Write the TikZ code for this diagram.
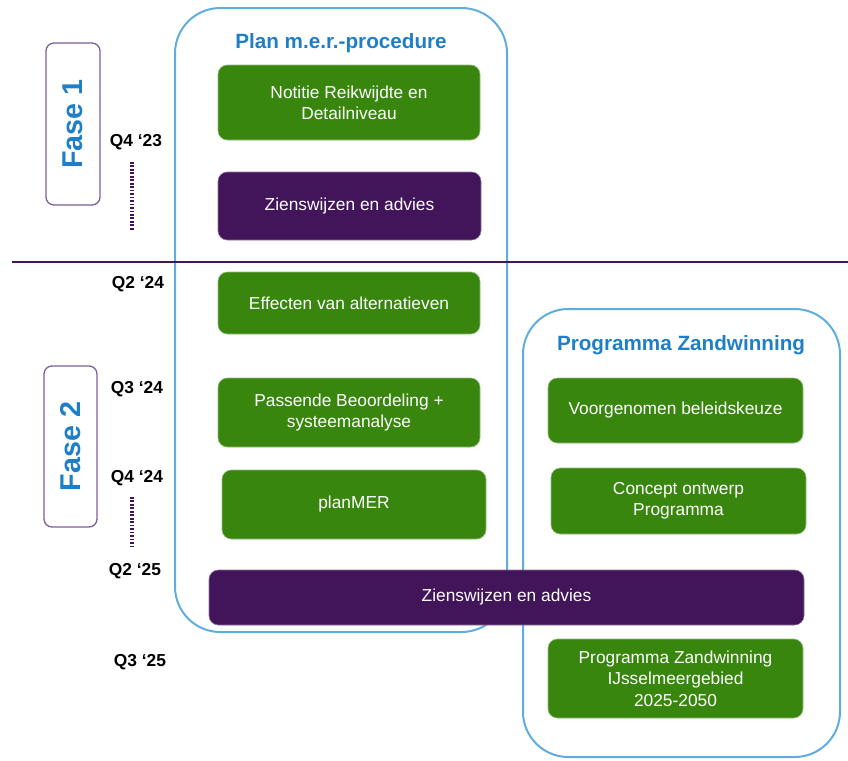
\documentclass[tikz,border=0pt]{standalone}
\usepackage{fontspec}
\setmainfont{Liberation Sans}
\definecolor{mergreen}{RGB}{56,134,14}
\definecolor{merpurple}{RGB}{66,20,90}
\definecolor{mertitle}{RGB}{30,127,200}
\definecolor{merframe}{RGB}{95,172,225}
\definecolor{merfase}{RGB}{125,95,155}
\tikzset{
  stepbox/.style={rounded corners=7pt,fill=mergreen,draw=mergreen!55!white,text=white,align=center,
    font=\fontsize{13}{16}\selectfont,inner sep=0pt},
  viewbox/.style={stepbox,fill=merpurple,draw=merpurple!60!white},
  quarter/.style={font=\fontsize{13}{15}\selectfont\bfseries},
  fasebox/.style={draw=merfase,line width=1pt,rounded corners=6pt},
  fasetext/.style={rotate=90,text=mertitle,font=\fontsize{21.5}{24}\selectfont\bfseries},
  frametitle/.style={text=mertitle,font=\fontsize{15.5}{18}\selectfont\bfseries},
  dotline/.style={draw=merpurple,line width=2.4pt,dash pattern=on 1.3pt off 1.3pt}
}
\begin{document}
\begin{tikzpicture}[x=0.75pt,y=-0.75pt]
\useasboundingbox (0,0) rectangle (848,760);
% procedure frames
\draw[merframe,line width=1.5pt,rounded corners=34pt] (175,8) rectangle (507,632);
\draw[merframe,line width=1.5pt,rounded corners=34pt] (523,309) rectangle (840,757);
\node[frametitle] (plantitle) at (341,43) {Plan m.e.r.-procedure};
\node[frametitle] (progtitle) at (681,345) {Programma Zandwinning};
% phase divider
\coordinate (divl) at (12,262);
\coordinate (divr) at (848,262);
\draw[merpurple,line width=2.1pt] (divl) -- (divr);
% phases
\draw[fasebox] (46,43) rectangle (100,205);
\node[fasetext] (fase1) at (73,124) {Fase 1};
\draw[fasebox] (44,366) rectangle (97,527);
\node[fasetext] (fase2) at (70.5,446.5) {Fase 2};
% quarters
\node[quarter] (q423) at (136,142) {Q4 ‘23};
\node[quarter] (q224) at (138,284) {Q2 ‘24};
\node[quarter] (q324) at (137,389) {Q3 ‘24};
\node[quarter] (q424) at (137,478) {Q4 ‘24};
\node[quarter] (q225) at (135,571) {Q2 ‘25};
\node[quarter] (q325) at (140,662) {Q3 ‘25};
\coordinate (dot1a) at (132,162);
\coordinate (dot1b) at (132,230);
\coordinate (dot2a) at (132,497);
\coordinate (dot2b) at (132,547);
\draw[dotline] (dot1a) -- (dot1b);
\draw[dotline] (dot2a) -- (dot2b);
% plan m.e.r. steps
\node[stepbox,minimum width=196.5pt,minimum height=56.25pt] (notitie) at (349,102.5) {Notitie Reikwijdte en\\Detailniveau};
\node[viewbox,minimum width=197.25pt,minimum height=51pt] (zien1) at (349.5,206) {Zienswijzen en advies};
\node[stepbox,minimum width=196.5pt,minimum height=46.5pt] (effect) at (349,303) {Effecten van alternatieven};
\node[stepbox,minimum width=196.5pt,minimum height=51.75pt] (passend) at (349,412.5) {Passende Beoordeling +\\systeemanalyse};
\node[stepbox,minimum width=198pt,minimum height=51.75pt] (planmer) at (354,504.5) {planMER};
% programma steps
\node[stepbox,minimum width=191.25pt,minimum height=48.75pt] (keuze) at (675.5,410.5) {Voorgenomen beleidskeuze};
\node[stepbox,minimum width=191.25pt,minimum height=49.5pt] (concept) at (678.5,501) {Concept ontwerp\\Programma};
\node[viewbox,minimum width=446.25pt,minimum height=41.25pt] (zien2) at (506.5,597.5) {Zienswijzen en advies};
\node[stepbox,minimum width=191.25pt,minimum height=59.25pt] (programma) at (675.5,678.5) {Programma Zandwinning\\IJsselmeergebied\\2025-2050};
\end{tikzpicture}
\end{document}
